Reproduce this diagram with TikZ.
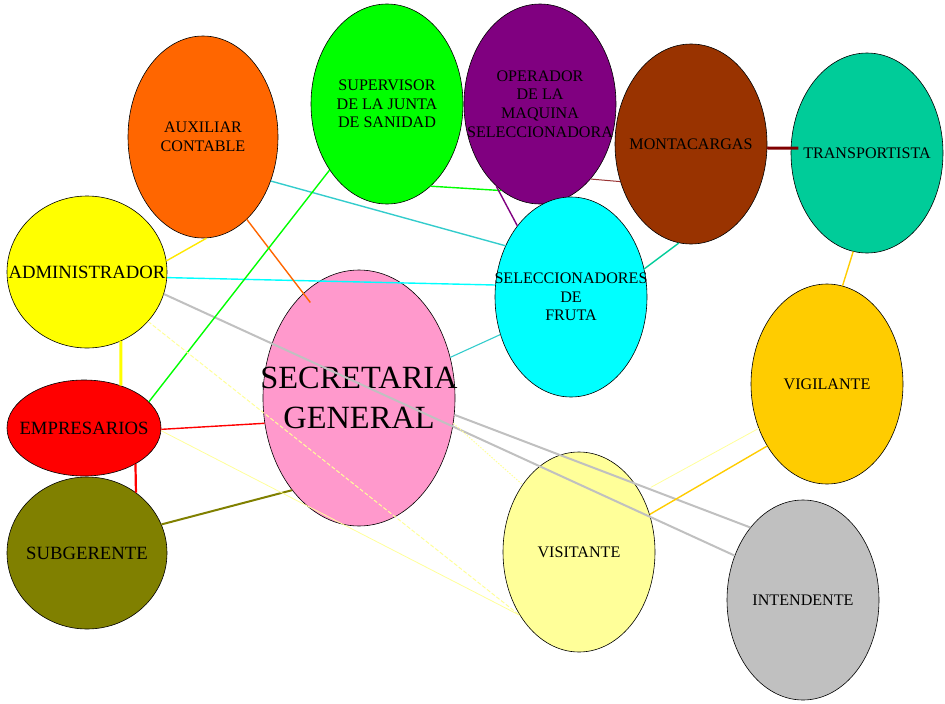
\documentclass[tikz,border=0pt]{standalone}
\usepackage{fontspec}
\setmainfont{Liberation Serif}
\usepackage{tikz}
\usetikzlibrary{shapes.geometric, calc}

\definecolor{naranja}{HTML}{FF6600}
\definecolor{amarillo}{HTML}{FFFF00}
\definecolor{verde}{HTML}{00FF00}
\definecolor{morado}{HTML}{800080}
\definecolor{cafe}{HTML}{993300}
\definecolor{verdeagua}{HTML}{00CC99}
\definecolor{celeste}{HTML}{00FFFF}
\definecolor{rosa}{HTML}{FF99CC}
\definecolor{rojo}{HTML}{FF0000}
\definecolor{oliva}{HTML}{808000}
\definecolor{ambar}{HTML}{FFCC00}
\definecolor{crema}{HTML}{FFFF99}
\definecolor{gris}{HTML}{C0C0C0}
\definecolor{turquesa}{HTML}{33CCCC}
\definecolor{rojizo}{HTML}{993333}
\definecolor{granate}{HTML}{800000}
\definecolor{oro}{HTML}{FFE800}

\begin{document}
\begin{tikzpicture}[x=1pt, y=-1pt]
\tikzstyle{rol}=[ellipse, draw=black, line width=0.6pt, inner sep=0pt, minimum width=152, minimum height=200]
\tikzstyle{lbl}=[align=center, font=\fontsize{16.1}{18.7}\selectfont]
\tikzstyle{big}=[align=center, font=\fontsize{18.7}{21}\selectfont]
\tikzstyle{connect}=[-, line width=1.4pt]
\useasboundingbox (0,0) rectangle (945,704);
\node[rol, fill=naranja, minimum width=150, minimum height=202, label={[lbl]center:AUXILIAR\\CONTABLE}] (aux) at (203,137) {};
\node[rol, fill=amarillo, minimum width=160, minimum height=152, label={[big]center:ADMINISTRADOR}] (admin) at (87,272) {};
\node[rol, fill=verde, label={[lbl]center:SUPERVISOR\\DE LA JUNTA\\DE SANIDAD}] (super) at (387,104) {};
\node[rol, fill=morado, label={[lbl]center:OPERADOR\\DE LA\\MAQUINA\\SELECCIONADORA}] (oper) at (540,104) {};
\node[rol, fill=cafe, label={[lbl]center:MONTACARGAS}] (monta) at (691,144) {};
\node[rol, fill=verdeagua, label={[lbl]center:TRANSPORTISTA}] (trans) at (867,153) {};
\node[rol, fill=celeste, label={[lbl]center:SELECCIONADORES\\DE\\FRUTA}] (selec) at (571,297) {};
\node[rol, fill=rosa, minimum width=192, minimum height=256, label={[align=center, font=\fontsize{32.4}{39.5}\selectfont]center:SECRETARIA\\GENERAL}] (secre) at (359,398) {};
\node[rol, fill=rojo, minimum width=154, minimum height=96, label={[big]center:EMPRESARIOS}] (empre) at (84,428) {};
\node[rol, fill=oliva, minimum width=160, minimum height=152, label={[big]center:SUBGERENTE}] (subge) at (87,553) {};
\node[rol, fill=ambar, label={[lbl]center:VIGILANTE}] (vigil) at (827,384) {};
\node[rol, fill=crema, label={[lbl]center:VISITANTE}] (visit) at (579,552) {};
\node[rol, fill=gris, label={[lbl]center:INTENDENTE}] (inten) at (803,600) {};
\path (admin.8) edge [connect, oro] (aux.-88);
\path (admin.-4) edge [connect, celeste] (selec.171);
\path (admin.-16) edge [connect, gris, line width=2pt] (inten.147);
\path (secre.-10) edge [connect, gris, line width=2pt] (inten.126);
\path (aux.-62) edge [connect, naranja] ($(secre.center)!.9!(secre.117)$);
\path (aux.-33) edge [connect, turquesa] (selec.142);
\path (super.-131) edge [connect, verde] (empre.22);
\path (super.-62) edge [connect, verde] (oper.-114);
\path (oper.-118) edge [connect, morado] (selec.127);
\path (oper.-56) edge [connect, rojizo, line width=1pt] (monta.-152);
\path (monta.-3) edge [connect, granate, line width=3pt] ($(trans.center)!.9!(trans.176)$);
\path (monta.-97) edge [connect, verdeagua] (selec.21);
\path (trans.-98) edge [connect, ambar] (vigil.81);
\path (selec.-152) edge [connect, turquesa, line width=1.1pt] (secre.24);
\path (admin.-64) edge [connect, amarillo, line width=3pt] (empre.49);
\path (empre.-1) edge [connect, rojo] (secre.-165);
\path (empre.-35) edge [connect, rojo, line width=2.2pt] (subge.51);
\path (subge.21) edge [connect, oliva, line width=2pt] (secre.-126);
\path (visit.28) edge [connect, ambar] (vigil.-134);
\path (vigil.-147) edge [connect, crema, line width=0.8pt] ($(visit.center)!1.14!(visit.42)$);
\path (admin.-39) edge [connect, crema, line width=1pt, dash pattern=on 4pt off 2pt] (visit.-133);
\path (empre.-2) edge [connect, crema, line width=0.8pt] (visit.-133);
\path (secre.-15) edge [connect, crema, line width=1pt, dash pattern=on 1.5pt off 1.5pt] (visit.130);
\end{tikzpicture}
\end{document}
